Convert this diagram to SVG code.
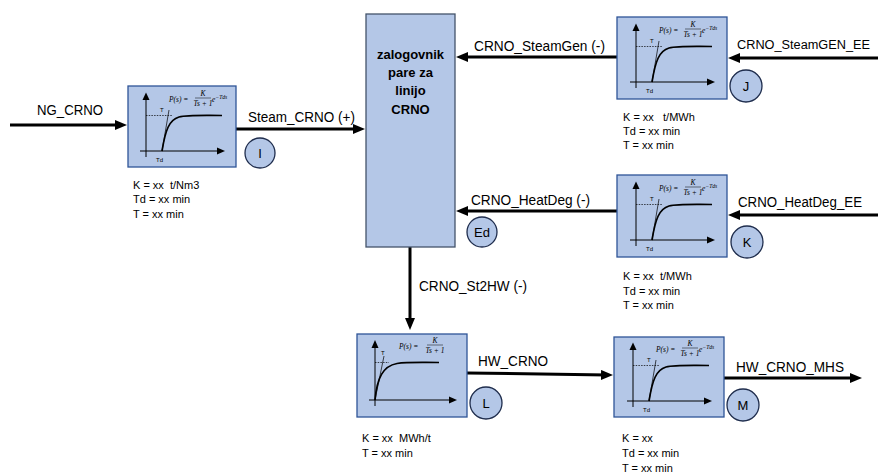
<svg xmlns="http://www.w3.org/2000/svg" xmlns:xlink="http://www.w3.org/1999/xlink" width="878" height="475" viewBox="0 0 878 475">
<style>
text{font-family:"Liberation Sans",Arial,sans-serif;fill:#000}
.box{fill:#b4c7e7;stroke:#2f5597;stroke-width:1.3}
.cbox{fill:#b4c7e7;stroke:#44546a;stroke-width:1.3}
.circ{fill:#b4c7e7;stroke:#1f2d4d;stroke-width:1.3}
.lbl{font-size:14px}
.par{font-size:11px;white-space:pre}
.cl{font-size:13px;text-anchor:middle}
.ct{font-size:13px;font-weight:bold;text-anchor:middle}
.fm{font-family:"Liberation Serif","Times New Roman",serif;font-style:italic;font-size:7.5px}
.fs{font-family:"Liberation Serif","Times New Roman",serif;font-style:italic;font-size:5.5px}
.sm{font-size:6px}
.fl{stroke:#000;stroke-width:0.5}
.conn{stroke:#000;stroke-width:3;fill:none;marker-end:url(#ah)}
.ax{stroke:#000;stroke-width:1;fill:none}
.dash{stroke:#000;stroke-width:0.7;stroke-dasharray:1.5 1.2;fill:none}
.crv{stroke:#000;stroke-width:1.7;fill:none}
.tan{stroke:#000;stroke-width:0.7;fill:none}
</style>
<defs>
<marker id="ah" markerWidth="12" markerHeight="10" refX="6" refY="5" orient="auto" markerUnits="userSpaceOnUse"><path d="M0,0 L12,5 L0,10 z" fill="#000"/></marker>
<g id="plotD">
<line class="ax" x1="19" y1="71" x2="19" y2="13"/>
<polygon points="15.5,14 22.5,14 19,6.5" fill="#000"/>
<line class="ax" x1="13" y1="65" x2="91" y2="65"/>
<polygon points="90,61.5 90,68.5 98,65" fill="#000"/>
<path class="dash" d="M19,29.5 H46"/>
<path class="crv" d="M35,65 C38.5,44 42,34 52,31 C60,29 70,29.5 95,29.5"/>
<path class="tan" d="M35,65 L42,24"/>
</g>
<g id="plotL">
<line class="ax" x1="18" y1="72" x2="18" y2="13"/>
<polygon points="14.5,14 21.5,14 18,6" fill="#000"/>
<line class="ax" x1="12" y1="66" x2="93" y2="66"/>
<polygon points="92,62.5 92,69.5 100,66" fill="#000"/>
<path class="dash" d="M18,28.5 H32"/>
<path class="crv" d="M18,66 C20,44 26,32 40,29.5 C50,28 60,28.5 82,28.5"/>
<path class="tan" d="M18,66 L27,22"/>
</g>
</defs>

<g id="connectors">
<line class="conn" x1="10" y1="125" x2="121" y2="125"/>
<line class="conn" x1="236" y1="129" x2="359" y2="129"/>
<line class="conn" x1="617" y1="57" x2="462" y2="57"/>
<line class="conn" x1="878" y1="58" x2="734" y2="58"/>
<line class="conn" x1="617" y1="211" x2="462" y2="211"/>
<line class="conn" x1="878" y1="215" x2="734" y2="215"/>
<line class="conn" x1="410" y1="247" x2="410" y2="324"/>
<line class="conn" x1="467" y1="373" x2="607" y2="375"/>
<line class="conn" x1="724" y1="378" x2="856" y2="378"/>
<text class="lbl" x="37" y="115" textLength="66" lengthAdjust="spacingAndGlyphs">NG_CRNO</text>
<text class="lbl" x="248" y="122" textLength="107" lengthAdjust="spacingAndGlyphs">Steam_CRNO (+)</text>
<text class="lbl" x="474" y="51" textLength="131" lengthAdjust="spacingAndGlyphs">CRNO_SteamGen (-)</text>
<text class="lbl" x="737" y="49" style="font-size:12.5px" textLength="133" lengthAdjust="spacingAndGlyphs">CRNO_SteamGEN_EE</text>
<text class="lbl" x="471" y="205" textLength="119" lengthAdjust="spacingAndGlyphs">CRNO_HeatDeg (-)</text>
<text class="lbl" x="738" y="207" textLength="124" lengthAdjust="spacingAndGlyphs">CRNO_HeatDeg_EE</text>
<text class="lbl" x="419" y="291" textLength="108" lengthAdjust="spacingAndGlyphs">CRNO_St2HW (-)</text>
<text class="lbl" x="478" y="366" textLength="70" lengthAdjust="spacingAndGlyphs">HW_CRNO</text>
<text class="lbl" x="736" y="372" textLength="108" lengthAdjust="spacingAndGlyphs">HW_CRNO_MHS</text>
</g>

<g id="node-central">
<rect class="cbox" x="366" y="14" width="89" height="233"/>
<text class="ct" x="410.5" y="59">zalogovnik</text>
<text class="ct" x="410.5" y="77">pare za</text>
<text class="ct" x="410.5" y="95">linijo</text>
<text class="ct" x="410.5" y="114">CRNO</text>
</g>

<g id="node-I">
<rect class="box" x="128" y="86" width="108" height="81"/>
<g transform="translate(127,86)">
<use xlink:href="#plotD" href="#plotD"/>
<text class="sm" x="33" y="26">T</text>
<text class="sm" x="29" y="76">Td</text>
<text class="fm" x="42" y="16">P(s) =</text>
<text class="fm" x="76" y="10" text-anchor="middle">K</text>
<line class="fl" x1="68" y1="12" x2="84" y2="12"/>
<text class="fm" x="76" y="19.5" text-anchor="middle">Ts + 1</text>
<text class="fm" x="85" y="16">e</text>
<text class="fs" x="88.5" y="13">−Tds</text>
</g>
<circle class="circ" cx="260" cy="153" r="15"/>
<text class="cl" x="260" y="158">I</text>
<text class="par" x="133" y="189">K = xx  t/Nm3</text>
<text class="par" x="133" y="203">Td = xx min</text>
<text class="par" x="133" y="218">T = xx min</text>
</g>

<g id="node-J">
<rect class="box" x="617" y="17" width="110" height="82"/>
<g transform="translate(617,17)">
<use xlink:href="#plotD" href="#plotD"/>
<text class="sm" x="33" y="26">T</text>
<text class="sm" x="29" y="76">Td</text>
<text class="fm" x="42" y="16">P(s) =</text>
<text class="fm" x="76" y="10" text-anchor="middle">K</text>
<line class="fl" x1="68" y1="12" x2="84" y2="12"/>
<text class="fm" x="76" y="19.5" text-anchor="middle">Ts + 1</text>
<text class="fm" x="85" y="16">e</text>
<text class="fs" x="88.5" y="13">−Tds</text>
</g>
<circle class="circ" cx="746" cy="86" r="16"/>
<text class="cl" x="746" y="91">J</text>
<text class="par" x="623" y="121">K = xx   t/MWh</text>
<text class="par" x="623" y="135">Td = xx min</text>
<text class="par" x="623" y="149">T = xx min</text>
</g>

<g id="node-Ed">
<circle class="circ" cx="482" cy="232" r="15"/>
<text class="cl" x="482" y="237">Ed</text>
</g>

<g id="node-K">
<rect class="box" x="617" y="175" width="110" height="82"/>
<g transform="translate(617,175)">
<use xlink:href="#plotD" href="#plotD"/>
<text class="sm" x="33" y="26">T</text>
<text class="sm" x="29" y="76">Td</text>
<text class="fm" x="42" y="16">P(s) =</text>
<text class="fm" x="76" y="10" text-anchor="middle">K</text>
<line class="fl" x1="68" y1="12" x2="84" y2="12"/>
<text class="fm" x="76" y="19.5" text-anchor="middle">Ts + 1</text>
<text class="fm" x="85" y="16">e</text>
<text class="fs" x="88.5" y="13">−Tds</text>
</g>
<circle class="circ" cx="747" cy="242" r="16"/>
<text class="cl" x="747" y="247">K</text>
<text class="par" x="623" y="280">K = xx  t/MWh</text>
<text class="par" x="623" y="295">Td = xx min</text>
<text class="par" x="623" y="309">T = xx min</text>
</g>

<g id="node-L">
<rect class="box" x="357" y="334" width="110" height="83"/>
<g transform="translate(357,334)">
<use xlink:href="#plotL" href="#plotL"/>
<text class="sm" x="24" y="21">T</text>
<text class="fm" x="42" y="14.5">P(s) =</text>
<text class="fm" x="78" y="9" text-anchor="middle">K</text>
<line class="fl" x1="70" y1="11" x2="86" y2="11"/>
<text class="fm" x="78" y="18.5" text-anchor="middle">Ts + 1</text>
</g>
<circle class="circ" cx="486" cy="403" r="16"/>
<text class="cl" x="486" y="408">L</text>
<text class="par" x="362" y="442">K = xx  MWh/t</text>
<text class="par" x="362" y="457">T = xx min</text>
</g>

<g id="node-M">
<rect class="box" x="614" y="337" width="110" height="80"/>
<g transform="translate(614,336)">
<use xlink:href="#plotD" href="#plotD"/>
<text class="sm" x="33" y="26">T</text>
<text class="sm" x="29" y="76">Td</text>
<text class="fm" x="42" y="16">P(s) =</text>
<text class="fm" x="76" y="10" text-anchor="middle">K</text>
<line class="fl" x1="68" y1="12" x2="84" y2="12"/>
<text class="fm" x="76" y="19.5" text-anchor="middle">Ts + 1</text>
<text class="fm" x="85" y="16">e</text>
<text class="fs" x="88.5" y="13">−Tds</text>
</g>
<circle class="circ" cx="743" cy="405" r="16"/>
<text class="cl" x="743" y="410">M</text>
<text class="par" x="622" y="442">K = xx</text>
<text class="par" x="622" y="457">Td = xx min</text>
<text class="par" x="622" y="472">T = xx min</text>
</g>
</svg>
